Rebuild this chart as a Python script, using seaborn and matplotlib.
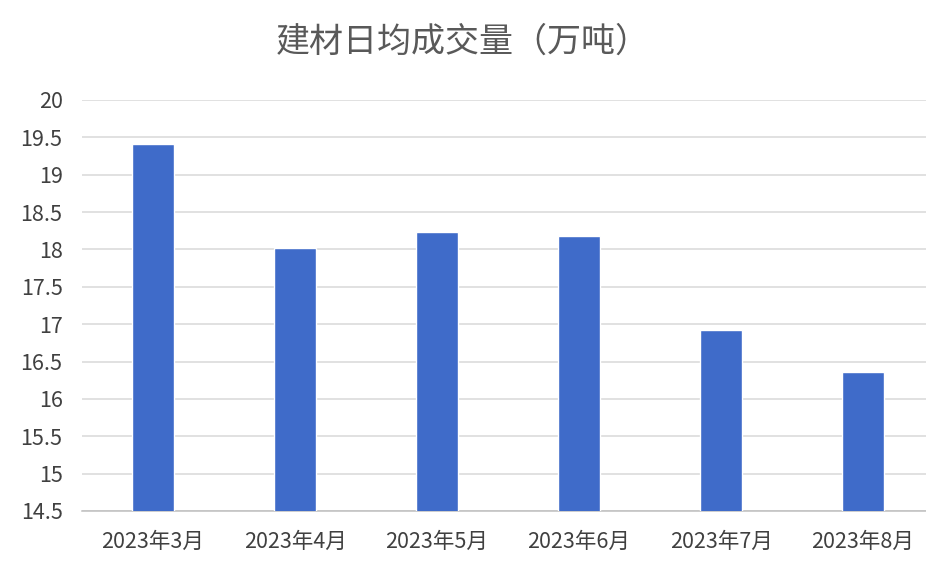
import matplotlib
matplotlib.use("Agg")
import matplotlib.pyplot as plt
import numpy as np
import pandas as pd
import seaborn as sns

# chart data
months = ["2023年3月", "2023年4月", "2023年5月", "2023年6月", "2023年7月", "2023年8月"]
volume = [19.41, 18.02, 18.23, 18.18, 16.92, 16.36]
y_ticks = [14.5, 15, 15.5, 16, 16.5, 17, 17.5, 18, 18.5, 19, 19.5, 20]

sns.set_style("white")
plt.rcParams["font.family"] = ["Noto Sans CJK SC", "DejaVu Sans"]

df = pd.DataFrame({"month": months, "volume": volume})

fig = plt.figure(figsize=(9.26, 5.74), dpi=100)
ax = fig.add_axes([82 / 926, 1 - 511 / 574, 852 / 926, 411 / 574])

sns.barplot(data=df, x="month", y="volume", color="#3F6BC9", width=0.3,
            saturation=1, ax=ax, zorder=3)

ax.set_ylim(14.5, 20)
ax.set_xlim(-0.5, len(months) - 0.5)
ax.set_yticks(y_ticks)
ax.set_yticklabels([f"{t:g}" for t in y_ticks])
ax.yaxis.grid(True, color="#D9D9D9", linewidth=1.1, zorder=0)
ax.set_axisbelow(True)

for side in ["top", "right", "left"]:
    ax.spines[side].set_visible(False)
ax.spines["bottom"].set_color("#BFBFBF")
ax.spines["bottom"].set_linewidth(1.1)

ax.tick_params(axis="y", length=0, labelsize=15.5, labelcolor="#404040", pad=14)
ax.tick_params(axis="x", which="major", length=0, labelsize=15.5,
               labelcolor="#404040", pad=14)
ax.set_xticks(np.arange(-0.5, len(months)), minor=True)
ax.tick_params(axis="x", which="minor", length=6, color="#BFBFBF", width=1.1)

ax.set_xlabel("")
ax.set_ylabel("")
fig.text(0.5, 1 - 42 / 574, "建材日均成交量（万吨）", ha="center", va="center",
         fontsize=24.5, color="#595959")

fig.savefig("out.png", dpi=100)
